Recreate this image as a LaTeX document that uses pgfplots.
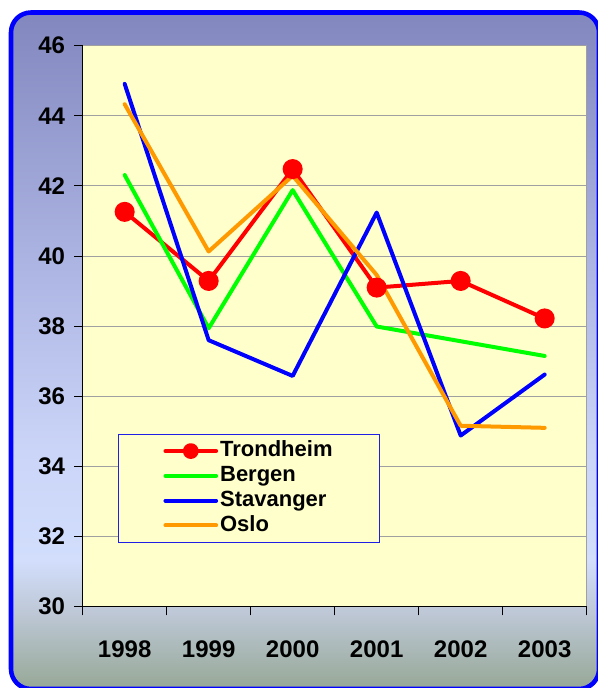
\documentclass[border=0pt]{standalone}
\usepackage{pgfplots}
\pgfplotsset{compat=1.18}
\usepackage{fontspec}
\setmainfont{Liberation Sans}

\definecolor{trond}{RGB}{255,0,0}
\definecolor{berg}{RGB}{0,255,0}
\definecolor{stav}{RGB}{0,0,255}
\definecolor{oslo}{RGB}{255,153,0}
\definecolor{plotbg}{RGB}{255,255,204}
\definecolor{gridgray}{RGB}{160,160,160}
\definecolor{legblue}{RGB}{30,30,230}
\definecolor{framecol}{RGB}{0,0,255}
\definecolor{bgA}{RGB}{150,168,150}
\definecolor{bgB}{RGB}{190,200,215}
\definecolor{bgC}{RGB}{210,222,252}
\definecolor{bgD}{RGB}{203,213,248}
\definecolor{bgE}{RGB}{170,178,225}
\definecolor{bgF}{RGB}{130,135,190}
% the path covers 25bp..75bp of the shading
\pgfdeclareverticalshading{panelbg}{100bp}{color(0bp)=(bgA); color(25bp)=(bgA); color(30.75bp)=(bgB); color(34.5bp)=(bgC); color(42.5bp)=(bgD); color(57.5bp)=(bgE); color(75bp)=(bgF); color(100bp)=(bgF)}

\begin{document}
\begin{tikzpicture}[x=0.75pt,y=0.75pt]
\clip (0,0) rectangle (598,688);
\shade[shading=panelbg, rounded corners=15pt] (11,-1) rectangle (599,675.5);
\draw[framecol, line width=3.4pt, rounded corners=15pt] (11,-1) rectangle (599,675.5);
\begin{axis}[
    at={(62pt,61pt)}, anchor=south west,
    scale only axis, width=378pt, height=420.75pt,
    xmin=0.5, xmax=6.5, ymin=30, ymax=46,
    xtick={1,...,6},
    xticklabels={1998,1999,2000,2001,2002,2003},
    minor xtick={0.5,1.5,...,6.5},
    ytick={30,32,...,46},
    axis x line*=bottom, axis y line*=left,
    axis line style={black, line width=1pt},
    tick align=outside,
    major tick length=6.5pt, minor tick length=6.5pt,
    tick style={black, line width=0.8pt},
    major x tick style={draw=none},
    ymajorgrids, major grid style={gridgray, line width=0.8pt},
    axis background/.style={fill=plotbg, draw=gridgray, line width=0.8pt},
    tick label style={font=\fontsize{18}{20}\selectfont\bfseries},
    /pgf/number format/assume math mode=true,
    xticklabel style={yshift=-15.5pt},
    yticklabel style={xshift=-3.2pt},
    legend cell align=left,
    legend style={at={(0.0706,0.308)}, anchor=north west,
        draw=legblue, line width=0.8pt, fill=plotbg,
        font=\fontsize{16.5}{18}\selectfont\bfseries,
        inner xsep=33.5pt, inner ysep=3.2pt, row sep=0pt,
        nodes={inner sep=1.5pt, text height=12.1pt, text depth=3.5pt}},
    legend image code/.code={\draw[mark repeat=2,mark phase=2,#1,mark size=4.4pt]
        plot coordinates {(0pt,0pt) (19pt,0pt) (38pt,0pt)};},
    every axis plot/.append style={line width=3pt, line cap=round, line join=round},
]
\addplot[trond, mark=*, mark size=6pt] coordinates {
    (1,41.26) (2,39.29) (3,42.48) (4,39.10) (5,39.29) (6,38.22)};
\addplot[berg] coordinates {
    (1,42.31) (2,37.94) (3,41.88) (4,37.99) (5,37.57) (6,37.15)};
\addplot[stav] coordinates {
    (1,44.91) (2,37.60) (3,36.58) (4,41.24) (5,34.88) (6,36.62)};
\addplot[oslo] coordinates {
    (1,44.33) (2,40.13) (3,42.29) (4,39.46) (5,35.16) (6,35.10)};
\legend{Trondheim, Bergen, Stavanger, Oslo}
\end{axis}
\end{tikzpicture}
\end{document}
